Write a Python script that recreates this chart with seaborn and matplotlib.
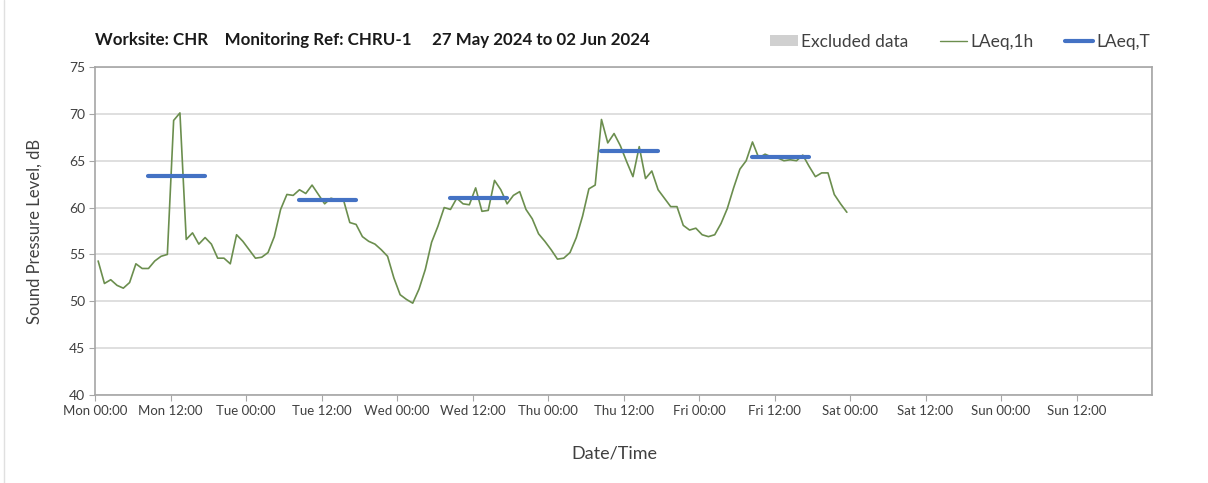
import numpy as np
import pandas as pd
import seaborn as sns
import matplotlib.pyplot as plt
import matplotlib.dates as mdates
from matplotlib.patches import Patch
from matplotlib.lines import Line2D

# monitoring week starts Monday 27 May 2024
start = pd.Timestamp('2024-05-27 00:00')

# hourly LAeq,1h, dB (plotted at the half hour), Mon 00:00 -> Fri 24:00
laeq_1h = [54.3, 51.9, 52.3, 51.7, 51.4, 52.0, 54.0, 53.5, 53.5, 54.3, 54.8, 55.0,
           69.3, 70.1, 56.6, 57.3, 56.1, 56.8, 56.1, 54.6, 54.6, 54.0, 57.1, 56.4,
           55.5, 54.6, 54.7, 55.2, 56.9, 59.8, 61.4, 61.3, 61.9, 61.5, 62.4, 61.4,
           60.4, 61.0, 60.8, 60.8, 58.4, 58.2, 56.9, 56.4, 56.1, 55.5, 54.8, 52.5,
           50.7, 50.2, 49.8, 51.3, 53.4, 56.3, 58.0, 60.0, 59.8, 61.0, 60.4, 60.3,
           62.1, 59.6, 59.7, 62.9, 61.9, 60.4, 61.3, 61.7, 59.8, 58.8, 57.2, 56.4,
           55.5, 54.5, 54.6, 55.2, 56.8, 59.1, 62.0, 62.4, 69.4, 66.9, 67.9, 66.6,
           64.9, 63.3, 66.5, 63.1, 63.9, 61.9, 61.0, 60.1, 60.1, 58.1, 57.6, 57.8,
           57.1, 56.9, 57.1, 58.3, 59.9, 62.1, 64.1, 65.0, 67.0, 65.3, 65.7, 65.4,
           65.3, 65.0, 65.1, 65.0, 65.6, 64.4, 63.3, 63.7, 63.7, 61.4, 60.4, 59.5]

# daytime LAeq,T (08:00-18:00) per weekday, dB
day_names = ['Mon', 'Tue', 'Wed', 'Thu', 'Fri']
laeq_t = [63.4, 60.8, 61.0, 66.0, 65.4]
period_hours = [8.5, 17.5]   # first and last hourly midpoint of the period

title = 'Worksite: CHR    Monitoring Ref: CHRU-1     27 May 2024 to 02 Jun 2024'

hourly = pd.DataFrame({
    'time': start + pd.to_timedelta(np.arange(len(laeq_1h)) + 0.5, unit='h'),
    'level': laeq_1h,
})
rows = []
for d, (name, v) in enumerate(zip(day_names, laeq_t)):
    for h in period_hours:
        rows.append({'day': name, 'time': start + pd.Timedelta(hours=24 * d + h), 'level': v})
periods = pd.DataFrame(rows)

green = '#6b8e4e'
blue = '#4472c4'
grid_c = '#d9d9d9'
spine_c = '#a6a6a6'
text_c = '#404040'

sns.set_style('white')
plt.rcParams['font.family'] = ['Lato', 'DejaVu Sans']

fig = plt.figure(figsize=(12.08, 4.83), dpi=100)
ax = fig.add_axes([95 / 1208, 88 / 483, 1057 / 1208, 328 / 483])

sns.lineplot(data=hourly, x='time', y='level', color=green, lw=1.2, ax=ax)
sns.lineplot(data=periods, x='time', y='level', units='day', estimator=None,
             color=blue, lw=3, ax=ax)

end = start + pd.Timedelta(days=7)
ax.set_xlim(start, end)
ax.set_ylim(40, 75)
ax.set_yticks(np.arange(40, 76, 5))

# labelled ticks every 12 h up to Sun 12:00, gridlines at midnight
ax.set_xticks(pd.date_range(start, periods=14, freq='12h'))
ax.xaxis.set_major_formatter(mdates.DateFormatter('%a %H:%M'))
ax.xaxis.set_minor_locator(mdates.DayLocator())

ax.grid(axis='y', color=grid_c, lw=1.2)
ax.grid(False, axis='x', which='major')
ax.grid(True, axis='x', which='minor', color=grid_c, lw=1.2)
ax.set_axisbelow(True)

for s in ax.spines.values():
    s.set_color(spine_c)
    s.set_linewidth(1.2)

ax.tick_params(axis='both', which='major', bottom=True, left=True, direction='out',
               length=4, color=spine_c, labelcolor=text_c, pad=3)
ax.tick_params(axis='x', which='major', labelsize=9.5)
ax.tick_params(axis='y', which='major', labelsize=10)
ax.tick_params(axis='x', which='minor', length=0)

ax.set_xlabel('Date/Time', fontsize=13, color=text_c)
ax.set_ylabel('Sound Pressure Level, dB', fontsize=12, color=text_c)
ax.xaxis.set_label_coords(0.491, -0.153)
ax.yaxis.set_label_coords(-0.050, 0.5)

fig.text(95 / 1208, 1 - 40 / 483, title, fontsize=12.2, fontweight='bold',
         va='center', ha='left', color='#1a1a1a')

handles = [Patch(facecolor='#d0d0d0', edgecolor='none', label='Excluded data'),
           Line2D([], [], color=green, lw=1, label='LAeq,1h'),
           Line2D([], [], color=blue, lw=3, label='LAeq,T')]
fig.legend(handles=handles, loc='center right', bbox_to_anchor=(1166 / 1208, 1 - 42 / 483),
           ncol=3, frameon=False, fontsize=12.5, handlelength=1.6, handleheight=0.6,
           handletextpad=0.2, columnspacing=1.8, labelcolor=text_c)

fig.add_artist(Line2D([3.5 / 1208, 3.5 / 1208], [0, 1], color='#e0e0e0', lw=1))

fig.savefig('out.png', dpi=100)
